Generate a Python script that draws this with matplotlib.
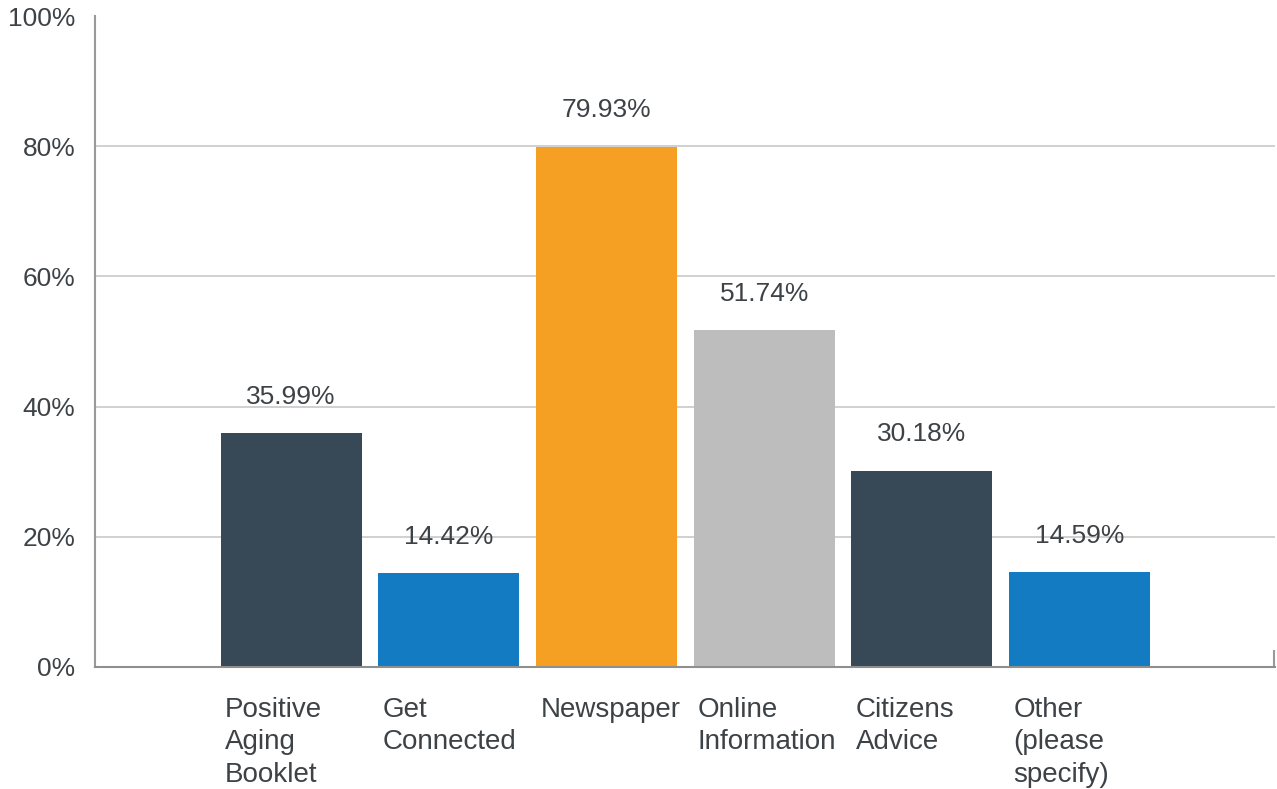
import matplotlib.pyplot as plt
from matplotlib.ticker import FuncFormatter

categories = ["Positive\nAging\nBooklet", "Get\nConnected", "Newspaper",
              "Online\nInformation", "Citizens\nAdvice", "Other\n(please\nspecify)"]
values = [35.99, 14.42, 79.93, 51.74, 30.18, 14.59]
colors = ["#374856", "#137bc1", "#f5a023", "#bdbdbd", "#374856", "#137bc1"]

text_color = "#3d4247"
plt.rcParams["font.family"] = ["Liberation Sans", "DejaVu Sans"]


def main():
    fig = plt.figure(figsize=(12.77, 7.89), dpi=100)
    ax = fig.add_axes([95 / 1277, 1 - 667 / 789, 1180 / 1277, (667 - 16) / 789])

    x = list(range(len(values)))
    ax.bar(x, values, width=0.895, color=colors, zorder=3)

    for xi, v in zip(x, values):
        ax.annotate("{:.2f}%".format(v), (xi, v), xytext=(0, 21),
                    textcoords="offset points", ha="center", va="baseline",
                    fontsize=19, color=text_color)

    # category labels sit under the bars, left aligned to each bar
    for xi, name in zip(x, categories):
        ax.text(xi - 0.42, -4.55, name, ha="left", va="top", fontsize=20,
                color=text_color, linespacing=1.34)

    ax.set_xlim(-1.244, 6.24)
    ax.set_ylim(0, 100)
    ax.set_yticks([0, 20, 40, 60, 80, 100])
    ax.yaxis.set_major_formatter(FuncFormatter(lambda v, p: "{:.0f}%".format(v)))
    ax.tick_params(axis="y", length=0, pad=14, labelsize=19, labelcolor=text_color)
    ax.tick_params(axis="x", length=0, labelbottom=False)

    for y in [20, 40, 60, 80]:
        ax.axhline(y, color="#c8c8c8", lw=1.2, zorder=1)

    for s in ["top", "right"]:
        ax.spines[s].set_visible(False)
    ax.spines["left"].set_color("#999999")
    ax.spines["left"].set_linewidth(1.5)
    ax.spines["bottom"].set_color("#8f8f8f")
    ax.spines["bottom"].set_linewidth(1.5)
    ax.spines["bottom"].set_zorder(4)
    ax.plot([6.235, 6.235], [0, 2.5], color="#999999", lw=1.5, clip_on=False)

    fig.savefig("out.png", dpi=100)
    plt.close(fig)


if __name__ == "__main__":
    main()
